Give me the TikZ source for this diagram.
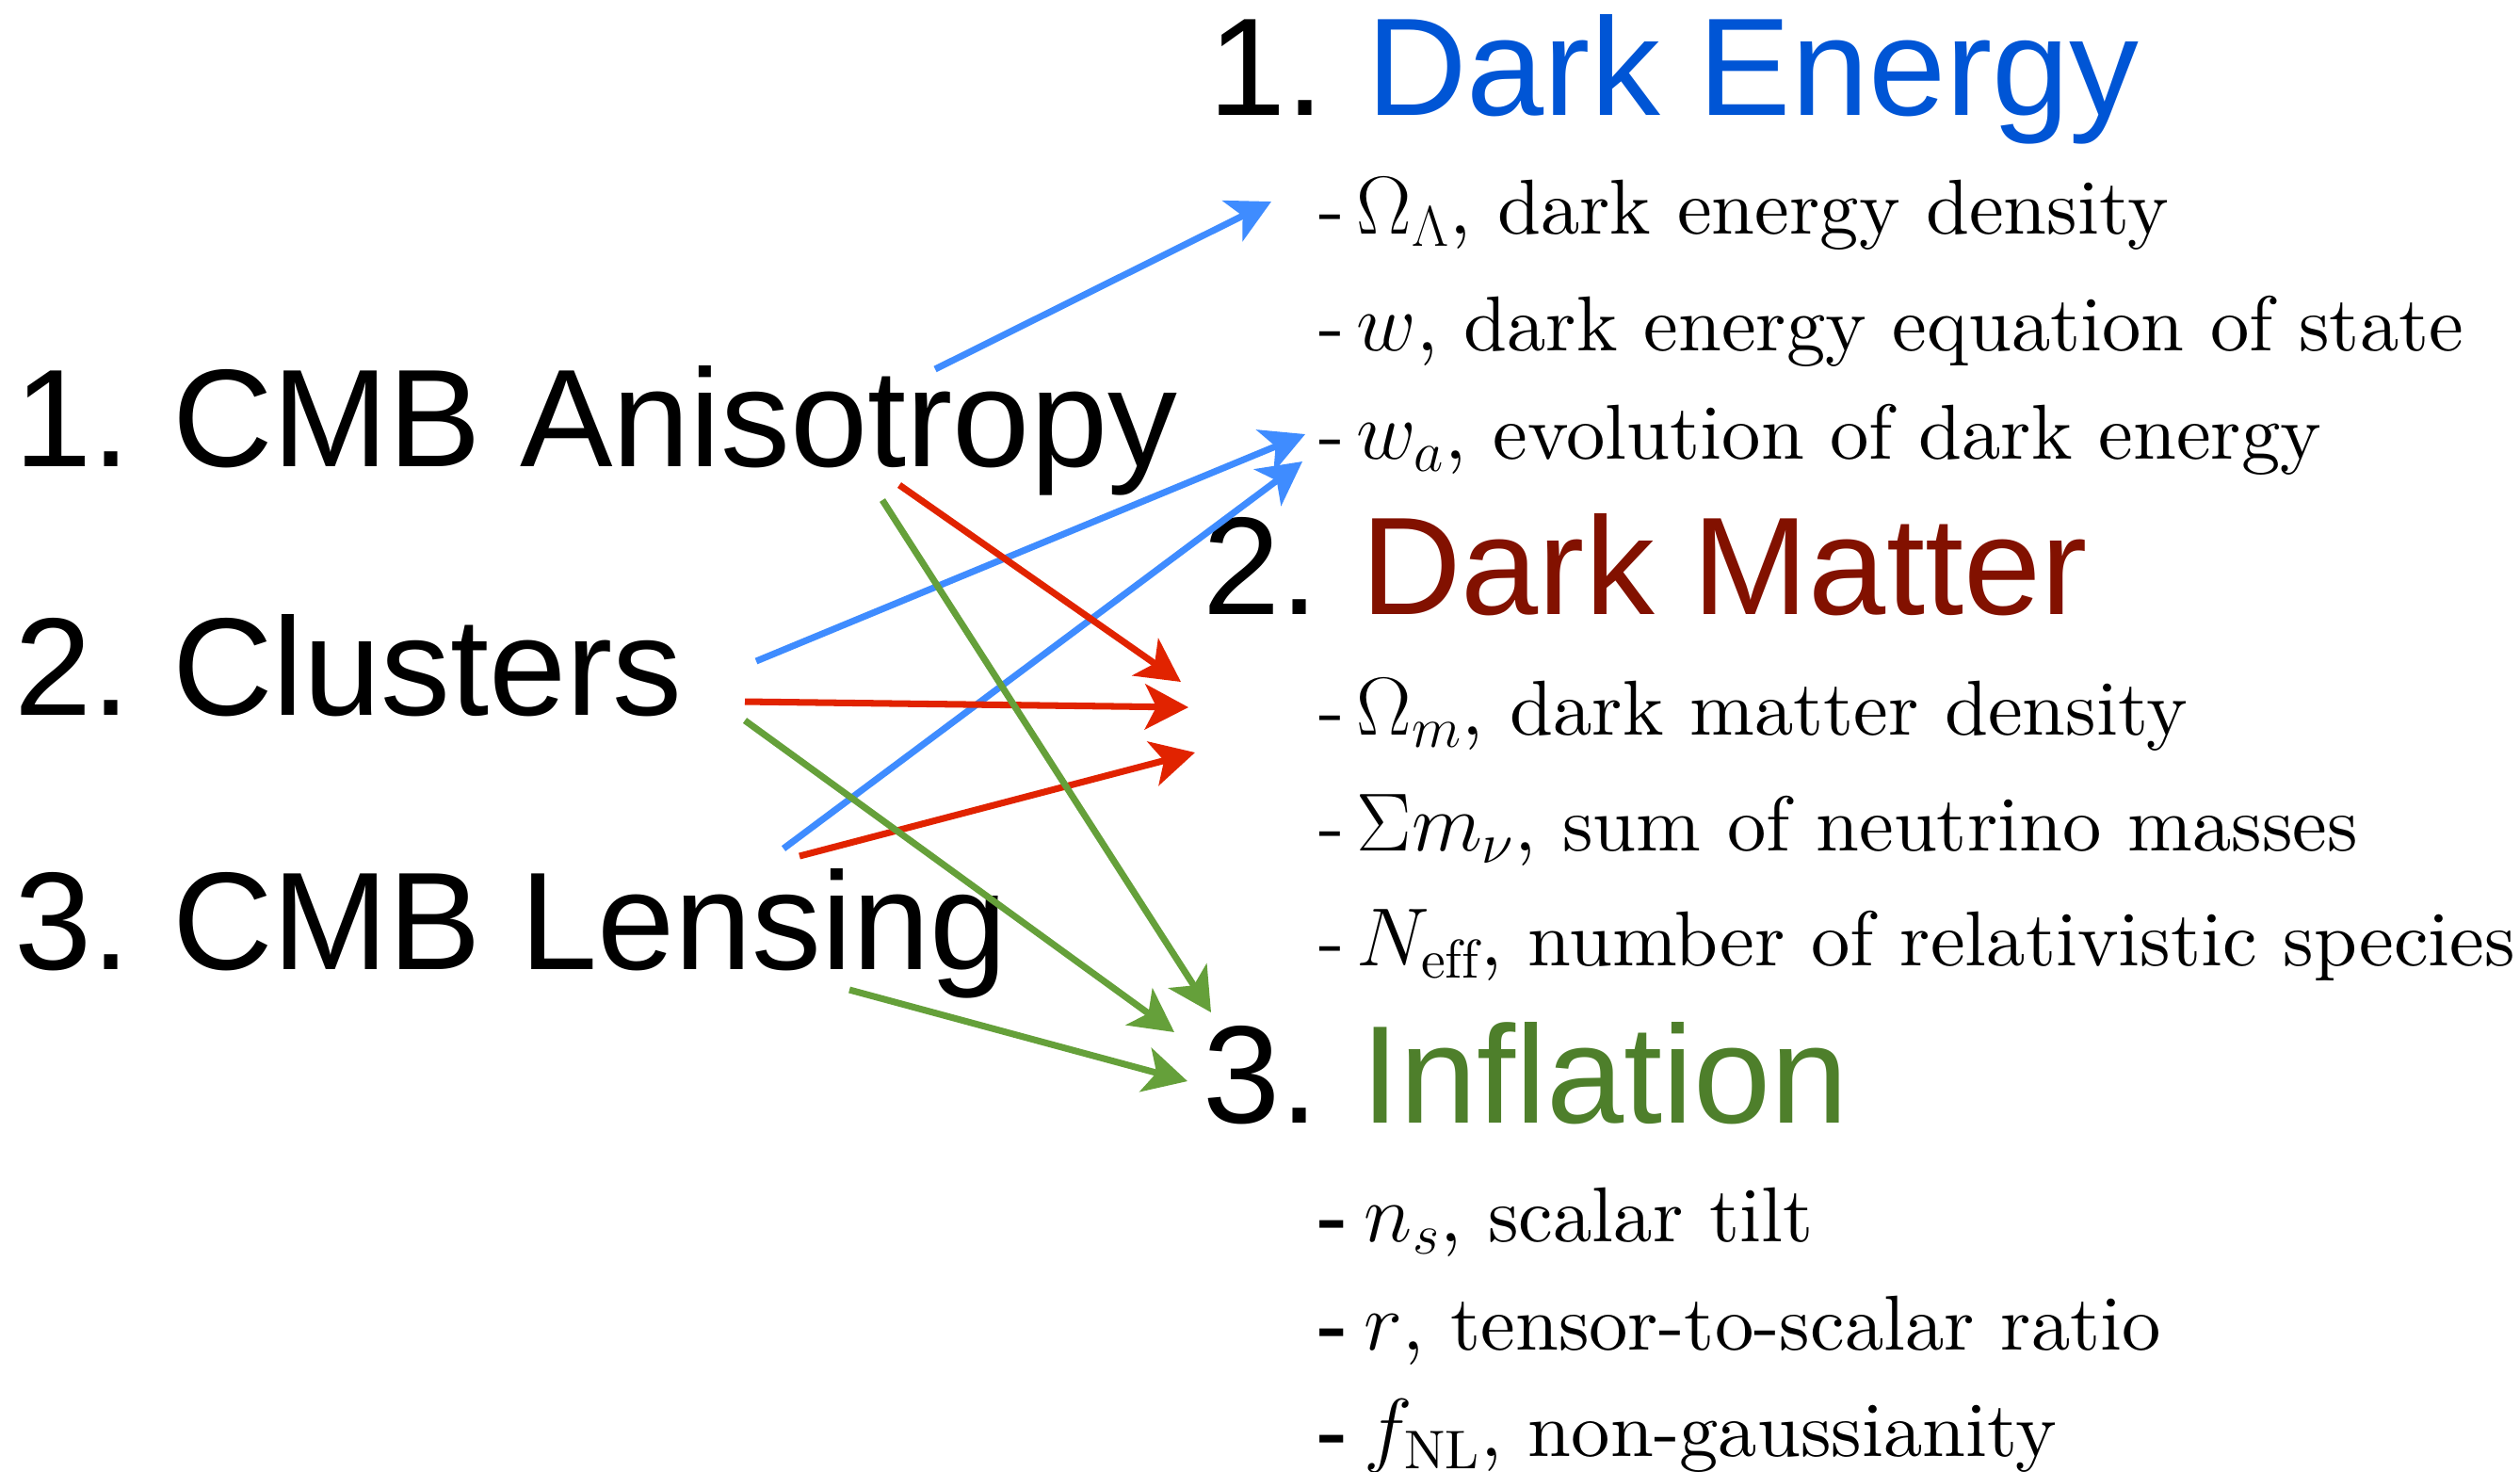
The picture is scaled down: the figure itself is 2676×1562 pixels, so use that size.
\documentclass[tikz,border=0pt]{standalone}
\usepackage{fontspec}
\setmainfont{lmroman10-regular.otf}[
    BoldFont=lmroman10-bold.otf,
    ItalicFont=lmroman10-italic.otf]
\newfontfamily\headfont{Liberation Sans}
\usepackage{xcolor}
\usetikzlibrary{arrows.meta}

\definecolor{detitle}{RGB}{0,85,213}
\definecolor{dmtitle}{RGB}{130,17,0}
\definecolor{intitle}{RGB}{78,127,43}
\definecolor{delink}{RGB}{63,140,255}
\definecolor{dmlink}{RGB}{225,35,0}
\definecolor{inlink}{RGB}{101,160,58}

\tikzset{
    head/.style={anchor=base west, inner sep=0pt, font=\headfont\fontsize{42}{50}\selectfont},
    item/.style={anchor=base west, inner sep=0pt, font=\fontsize{23.5}{28}\selectfont},
    link/.style={line width=2pt, -{Stealth[length=0.46cm, width=0.48cm, inset=0.12cm]}},
}

\begin{document}
\begin{tikzpicture}[x=0.01cm, y=-0.01cm]
    \useasboundingbox (0,0) rectangle (2676,1562);

    % probes
    \node[head] (aniso) at (15,495) {1.\hspace{0.3em}CMB Anisotropy};
    \node[head] (clusters) at (15,759) {2.\hspace{0.3em}Clusters};
    \node[head] (lensing) at (15,1029) {3.\hspace{0.3em}CMB Lensing};

    % science targets
    \node[head] (darkenergy) at (1283,122) {1.\hspace{0.3em}\textcolor{detitle}{Dark Energy}};
    \node[head] (darkmatter) at (1277,652) {2.\hspace{0.3em}\textcolor{dmtitle}{Dark Matter}};
    \node[head] (inflation) at (1277,1192) {3.\hspace{0.3em}\textcolor{intitle}{Inflation}};

    \node[item] (omlam) at (1400,248) {-\hspace{0.15em}$\Omega_\Lambda$, dark energy density};
    \node[item] (weos) at (1400,372) {-\hspace{0.15em}$w$, dark energy equation of state};
    \node[item] (wa) at (1400,487) {-\hspace{0.15em}$w_a$, evolution of dark energy};
    \node[item] (omm) at (1400,780) {-\hspace{0.15em}$\Omega_m$, dark matter density};
    \node[item] (mnu) at (1400,903) {-\hspace{0.15em}$\Sigma m_\nu$, sum of neutrino masses};
    \node[item] (neff) at (1400,1025) {-\hspace{0.15em}$N_{\mathrm{eff}}$, number of relativistic species};
    \node[item] (ns) at (1400,1318) {\textbf{-}\hspace{0.2em}$n_s$, scalar tilt};
    \node[item] (rr) at (1400,1433) {\textbf{-}\hspace{0.2em}$r$, tensor-to-scalar ratio};
    \node[item] (fnl) at (1400,1546) {\textbf{-}\hspace{0.2em}$f_{\mathrm{NL}}$, non-gaussianity};

    % arrow ends
    \coordinate (aniso-de) at (993,392);
    \coordinate (aniso-dm) at (955,515);
    \coordinate (aniso-in) at (937,531);
    \coordinate (clus-de) at (803,702);
    \coordinate (clus-dm) at (791,745);
    \coordinate (clus-in) at (791,765);
    \coordinate (lens-de) at (832,901);
    \coordinate (lens-dm) at (849,909);
    \coordinate (lens-in) at (902,1051);

    \coordinate (de-a) at (1350,214);
    \coordinate (de-b) at (1386,461);
    \coordinate (de-c) at (1383,490);
    \coordinate (dm-a) at (1254,724);
    \coordinate (dm-b) at (1262,751);
    \coordinate (dm-c) at (1269,799);
    \coordinate (in-a) at (1286,1075);
    \coordinate (in-b) at (1247,1096);
    \coordinate (in-c) at (1261,1148);

    \draw[link, delink] (aniso-de) -- (de-a);
    \draw[link, delink] (clus-de) -- (de-b);
    \draw[link, delink] (lens-de) -- (de-c);
    \draw[link, dmlink] (aniso-dm) -- (dm-a);
    \draw[link, dmlink] (clus-dm) -- (dm-b);
    \draw[link, dmlink] (lens-dm) -- (dm-c);
    \draw[link, inlink] (aniso-in) -- (in-a);
    \draw[link, inlink] (clus-in) -- (in-b);
    \draw[link, inlink] (lens-in) -- (in-c);
\end{tikzpicture}
\end{document}
